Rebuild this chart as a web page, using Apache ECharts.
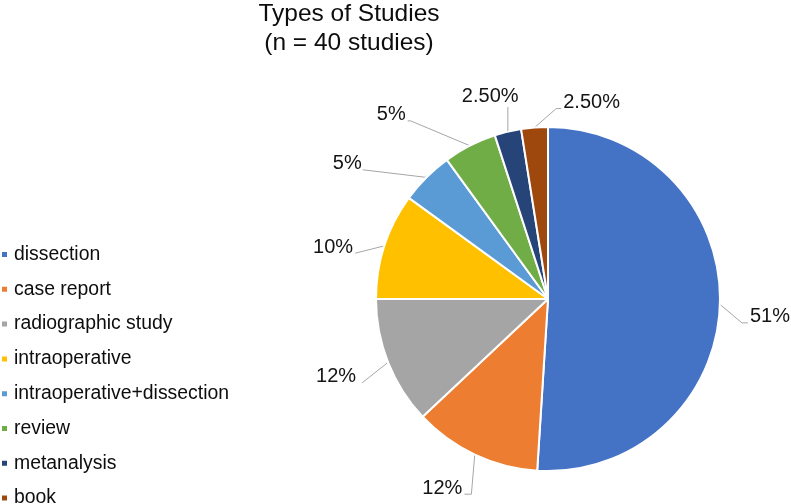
<!DOCTYPE html>
<html>
<head>
<meta charset="utf-8">
<script src="https://cdn.jsdelivr.net/npm/echarts@6/dist/echarts.min.js"></script>
<style>html,body{margin:0;padding:0;background:#fff;}#c{width:791px;height:504px;}</style>
</head>
<body>
<div id="c"></div>
<script>
const categories = ['dissection','case report','radiographic study','intraoperative','intraoperative+dissection','review','metanalysis','book'];
const values = [51, 12, 12, 10, 5, 5, 2.5, 2.5];
const labelTexts = ['51%','12%','12%','10%','5%','5%','2.50%','2.50%'];
const colors = ['#4472C4','#ED7D31','#A5A5A5','#FFC000','#5B9BD5','#70AD47','#264478','#9E480E'];

// label styling: leader line lengths, text nudges, leader attachment
const lineLen1 = [15, 15, 15, 15, 15, 38, 27, 20];
const lineLen2 = [10, 10, 10, 10, 48, 40, 0, 0];
const nudges = [[0, 12], [9, 20], [-3, 9], [-2, 6], [-1, -3], [-2, 3], [22, -9], [92, -5]];
const attach = ['R', 'L', 'L', 'L', 'L', 'L', 'B', 'R'];
const hook = [6, 7, 0, 0, 0, 3, 0, 5];
const gap = [2, 2, 6, 2, 1, 2, 0, 2];

const FONT = 'Liberation Sans, Arial, sans-serif';
const chart = echarts.init(document.getElementById('c'));
chart.setOption({
  animation: false,
  title: {
    text: 'Types of Studies\n(n = 40 studies)',
    left: 344, top: -5, textAlign: 'center',
    textStyle: {fontFamily: FONT, fontSize: 24.5, fontWeight: 'normal', color: '#0d0d0d', lineHeight: 29}
  },
  legend: {
    orient: 'vertical', left: 0, top: 245, padding: 0, height: 400,
    icon: 'rect', itemWidth: 7, itemHeight: 7, itemGap: 15.8,
    data: categories,
    textStyle: {fontFamily: FONT, fontSize: 19.4, color: '#0d0d0d', padding: [0, 0, 0, 1]}
  },
  series: [{
    type: 'pie',
    center: [548, 299],
    radius: 172,
    startAngle: 90,
    clockwise: true,
    avoidLabelOverlap: false,
    color: colors,
    itemStyle: {borderColor: '#fff', borderWidth: 2},
    label: {
      show: true, overflow: 'none',
      fontFamily: FONT, fontSize: 20, color: '#141414',
      formatter: p => labelTexts[p.dataIndex]
    },
    labelLine: {show: true, length: 15, length2: 10, lineStyle: {color: '#a6a6a6', width: 1}},
    labelLayout: p => {
      const i = p.dataIndex;
      const [dx, dy] = nudges[i];
      const r = p.labelRect;
      const nx = r.x + dx, ny = r.y + dy;
      const cy = ny + r.height / 2;
      const start = p.labelLinePoints ? p.labelLinePoints[0] : [0, 0];
      let end, elbow;
      if (attach[i] === 'R') {
        end = [nx - gap[i], cy + 6];
        elbow = [end[0] - hook[i], end[1]];
      } else if (attach[i] === 'L') {
        end = [nx + r.width + gap[i], cy + 6];
        elbow = [end[0] + hook[i], end[1]];
      } else {
        end = [start[0], cy + 10.5];
        elbow = end;
      }
      return {dx: dx, dy: dy, labelLinePoints: [start, elbow, end]};
    },
    data: categories.map((c, i) => ({
      name: c, value: values[i],
      labelLine: {length: lineLen1[i], length2: lineLen2[i]}
    }))
  }]
});
</script>
</body>
</html>
